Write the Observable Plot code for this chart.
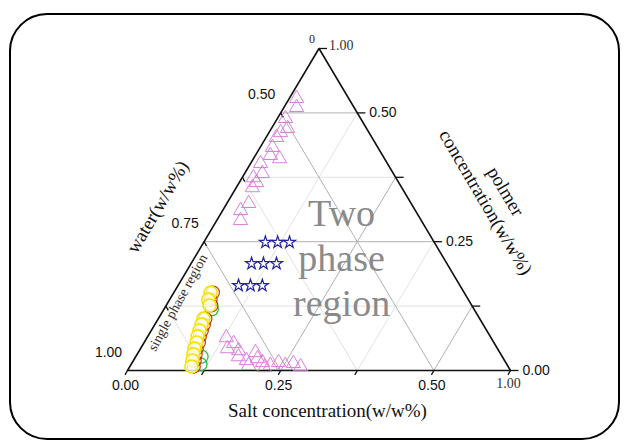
<!DOCTYPE html>
<html><head><meta charset="utf-8">
<script src="https://cdn.jsdelivr.net/npm/d3@7"></script>
<script src="https://cdn.jsdelivr.net/npm/@observablehq/plot@0.6"></script>
<style>
html,body{margin:0;padding:0;background:#fff;}
#wrap{position:relative;width:627px;height:441px;overflow:hidden;background:#fff;}
#frame{position:absolute;left:9px;top:13px;width:611px;height:427px;border:2px solid #000;border-radius:38px;box-sizing:border-box;pointer-events:none;}
</style></head><body>
<div id="wrap"><div id="chart"></div><div id="frame"></div></div>
<script>
// ternary values: salt fraction (bottom axis) and polymer fraction (right axis); water = 1 - salt - polymer
const triUpperSalt    = [0.019,0.033,0.021,0.042,0.030,0.027,0.032,0.039,0.068,0.026,0.029,0.046,0.045,0.042,0.057,0.047,0.062];
const triUpperPolymer = [0.845,0.817,0.783,0.752,0.739,0.724,0.693,0.668,0.658,0.643,0.599,0.612,0.584,0.568,0.519,0.497,0.466];
const triLowerSalt    = [0.207,0.235,0.227,0.259,0.268,0.295,0.306,0.321,0.340,0.308,0.365,0.382,0.404,0.422,0.446,0.353];
const triLowerPolymer = [0.102,0.084,0.068,0.062,0.043,0.031,0.056,0.037,0.025,0.016,0.016,0.025,0.016,0.022,0.012,0.009];
const starSalt    = [0.161,0.193,0.224,0.158,0.189,0.223,0.158,0.189,0.220];
const starPolymer = [0.398,0.398,0.398,0.332,0.332,0.332,0.264,0.264,0.264];
const circYellowSalt    = [0.096,0.101,0.113,0.118,0.122,0.126,0.130,0.137,0.141,0.147,0.154,0.161];
const circYellowPolymer = [0.242,0.220,0.202,0.161,0.143,0.124,0.106,0.087,0.068,0.050,0.031,0.012];
const circRedSalt    = [0.102,0.107,0.118,0.123,0.128,0.132,0.136,0.143,0.147,0.153,0.160,0.167];
const circRedPolymer = [0.242,0.220,0.202,0.161,0.143,0.124,0.106,0.087,0.068,0.050,0.031,0.012];
const circGreenSalt    = [0.125,0.172,0.181];
const circGreenPolymer = [0.190,0.043,0.019];

const gridValues = [0.2,0.4,0.6,0.8];
const majorGrid = [0.4,0.8];
const edgeTicks = [0,0.2,0.4,0.6,0.8,1];
const bottomLabelPos = [0,0.4,0.8];
const bottomLabels = ["0.00","0.25","0.50"];
const leftLabelPos = [0,0.4,0.8];
const leftLabels = ["1.00","0.75","0.50"];
const rightLabelPos = [0,0.4,0.8];
const rightLabels = ["0.00","0.25","0.50"];

const rows = (s, p) => s.map((v, i) => ({s: v, p: p[i]}));
const X = d => d.s + d.p / 2;
const Y = d => d.p;

const grid = [];
for (const v of gridValues) {
  const major = majorGrid.includes(v);
  grid.push({x1: v/2, y1: v, x2: 1 - v/2, y2: v, major});
  grid.push({x1: v, y1: 0, x2: (1 + v)/2, y2: 1 - v, major});
  grid.push({x1: v, y1: 0, x2: v/2, y2: v, major});
}
const ticks = [];
for (const f of edgeTicks) {
  ticks.push({x1: f, y1: 0, x2: f - 0.0065, y2: -0.0134});
  ticks.push({x1: 1 - f/2, y1: f, x2: 1 - f/2 + 0.021, y2: f});
  if (f > 0 && f < 1) ticks.push({x1: f/2, y1: f, x2: f/2 + 0.0065, y2: f - 0.0134});
}
const edges = [{x:0,y:0},{x:1,y:0},{x:0.5,y:1},{x:0,y:0}];
const sans = "Liberation Sans, Arial, sans-serif";
const serif = "Liberation Serif, Times New Roman, serif";

const plot = Plot.plot({
  width: 627, height: 441,
  marginLeft: 127, marginRight: 117, marginTop: 48, marginBottom: 71,
  x: {domain: [0, 1], axis: null},
  y: {domain: [0, 1], axis: null},
  style: {background: "transparent"},
  marks: [
    Plot.link(grid.filter(d => !d.major), {x1: "x1", y1: "y1", x2: "x2", y2: "y2", stroke: "#e2e2e2", strokeWidth: 1}),
    Plot.link(grid.filter(d => d.major), {x1: "x1", y1: "y1", x2: "x2", y2: "y2", stroke: "#b0b0b0", strokeWidth: 1}),
    Plot.text(["Two\nphase\nregion"], {x: 0.559, y: 0.354, text: d => d, fontFamily: serif, fontSize: 38, lineHeight: 1.18, fill: "#8a8a8a"}),
    Plot.line(edges, {x: "x", y: "y", stroke: "#111", strokeWidth: 1.6}),
    Plot.link(ticks, {x1: "x1", y1: "y1", x2: "x2", y2: "y2", stroke: "#111", strokeWidth: 1.3}),
    Plot.dot(rows(triUpperSalt, triUpperPolymer), {x: X, y: Y, symbol: "triangle", r: 5.3, stroke: "#dc7ddc", strokeWidth: 1}),
    Plot.dot(rows(triLowerSalt, triLowerPolymer), {x: X, y: Y, symbol: "triangle", r: 5.3, stroke: "#dc7ddc", strokeWidth: 1}),
    Plot.dot(rows(starSalt, starPolymer), {x: X, y: Y, symbol: "star", r: 3.8, stroke: "#23239e", strokeWidth: 1.2, fill: "white"}),
    Plot.dot(rows(circGreenSalt, circGreenPolymer), {x: X, y: Y, r: 6.5, stroke: "#2fbf4a", strokeWidth: 1.3}),
    Plot.dot(rows(circRedSalt, circRedPolymer), {x: X, y: Y, r: 6.5, stroke: "#b83010", strokeWidth: 1.1}),
    Plot.dot(rows(circYellowSalt, circYellowPolymer), {x: X, y: Y, r: 6.5, stroke: "#f4e400", strokeWidth: 1.6, fill: "#fffce8", fillOpacity: 0.8}),
    // tick labels
    Plot.text(bottomLabelPos, {x: d => d, y: 0, text: (d, i) => bottomLabels[i], dx: -2, dy: 15, fontFamily: sans, fontSize: 14, fill: "#111"}),
    Plot.text([1], {x: d => d, y: 0, text: ["1.00"], dx: -2, dy: 13, fontFamily: serif, fontSize: 14, fill: "#333"}),
    Plot.text(leftLabelPos, {x: d => d/2, y: d => d, text: (d, i) => leftLabels[i], dx: -19, dy: -18, fontFamily: sans, fontSize: 14, fill: "#111"}),
    Plot.text(rightLabelPos, {x: d => 1 - d/2, y: d => d, text: (d, i) => rightLabels[i], dx: 12, textAnchor: "start", fontFamily: sans, fontSize: 14, fill: "#111"}),
    Plot.text([1], {x: 0.5, y: d => d, text: ["1.00"], dx: 10, dy: -3, textAnchor: "start", fontFamily: serif, fontSize: 14, fill: "#333"}),
    Plot.text([0], {x: 0.5, y: 1, text: ["0"], dx: -7, dy: -9, fontFamily: serif, fontSize: 12, fill: "#222"}),
    // titles
    Plot.text(["Salt concentration(w/w%)"], {x: 0.522, y: -0.125, text: d => d, fontFamily: serif, fontSize: 19, fill: "#111"}),
    Plot.text(["water(w/w%)"], {x: 0.079, y: 0.508, text: d => d, rotate: -59.5, fontFamily: serif, fontSize: 19, fill: "#111"}),
    Plot.text(["polmer"], {x: 0.987, y: 0.556, text: d => d, rotate: 59.5, fontFamily: serif, fontSize: 19, fill: "#111"}),
    Plot.text(["concentration(w/w%)"], {x: 0.935, y: 0.522, text: d => d, rotate: 59.5, fontFamily: serif, fontSize: 19, fill: "#111"}),
    Plot.text(["single phase region"], {x: 0.131, y: 0.211, text: d => d, rotate: -61, fontFamily: serif, fontSize: 14, fill: "#333"})
  ]
});
document.getElementById("chart").appendChild(plot);
</script>
</body></html>
